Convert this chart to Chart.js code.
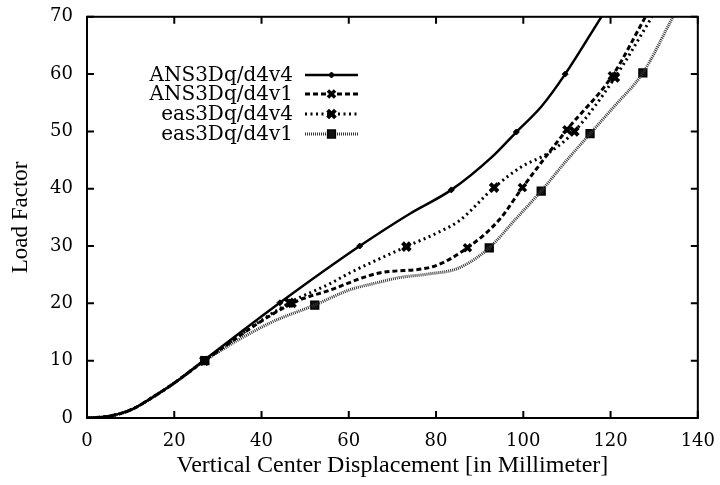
<!DOCTYPE html>
<html>
<head>
<meta charset="utf-8">
<script src="https://cdn.jsdelivr.net/npm/chart.js@4.4.1/dist/chart.umd.min.js"></script>
<style>
  html, body { margin: 0; padding: 0; background: #fff; }
  #wrap { width: 720px; height: 485px; }
</style>
</head>
<body>
<div id="wrap"><canvas id="loadChart" width="720" height="485"></canvas></div>
<script>
// axis ticks
const xTicks = [0, 20, 40, 60, 80, 100, 120, 140];
const yTicks = [0, 10, 20, 30, 40, 50, 60, 70];

const seriesNames = ['ANS3Dq/d4v4', 'ANS3Dq/d4v1', 'eas3Dq/d4v4', 'eas3Dq/d4v1'];

// ANS3Dq/d4v4 curve + markers
const ansV4X = [0, 5, 10, 15, 20, 26.7, 44.2, 62.5, 73.9, 83.5, 92.9, 98.4, 104.1, 109.6, 117.9];
const ansV4Y = [0, 0.3, 1.4, 3.6, 6.1, 10, 20.1, 30, 35.6, 39.8, 45.6, 49.9, 54.3, 60, 70];
const ansV4MarkX = [26.7, 44.2, 62.5, 83.5, 98.4, 109.6];
const ansV4MarkY = [10, 20.1, 30, 39.8, 49.9, 60];

// ANS3Dq/d4v1
const ansV1X = [0, 5, 10, 15, 20, 26.9, 47, 55.6, 67, 79.2, 87.2, 94.5, 99.8, 110, 120.4, 128];
const ansV1Y = [0, 0.3, 1.4, 3.6, 6.1, 10, 20, 22.3, 25.3, 26.4, 29.7, 34.6, 40.2, 50.3, 59.7, 70];
const ansV1MarkX = [26.9, 47, 87.2, 99.8, 110, 120.4];
const ansV1MarkY = [10, 20, 29.7, 40.2, 50.3, 59.7];

// eas3Dq/d4v4
const easV4X = [0, 5, 10, 15, 20, 26.9, 46.4, 55.6, 60.2, 73.2, 80.8, 85.3, 93.3, 99.5, 105.9, 111.7, 121, 129.5];
const easV4Y = [0, 0.3, 1.4, 3.6, 6.1, 10, 20.1, 23.4, 25.3, 29.9, 32.5, 34.4, 40.2, 43.8, 46.3, 50, 59.4, 70];
const easV4MarkX = [26.9, 46.4, 73.2, 93.3, 111.7, 121];
const easV4MarkY = [10, 20.1, 29.9, 40.2, 50, 59.4];

// eas3Dq/d4v1
const easV1X = [0, 5, 10, 15, 20, 27, 42, 52.2, 60, 67, 71.6, 78, 85.3, 92.2, 98, 104.1, 110, 115.3, 121, 127.4, 134.3];
const easV1Y = [0, 0.3, 1.4, 3.6, 6.1, 10, 16.6, 19.7, 22.3, 23.7, 24.5, 25.1, 26.2, 29.7, 34.5, 39.6, 45, 49.6, 54.5, 60.2, 70];
const easV1MarkX = [27, 52.2, 92.2, 104.1, 115.3, 127.4];
const easV1MarkY = [10, 19.7, 29.7, 39.6, 49.6, 60.2];

function pts(xs, ys) {
    return xs.map((x, i) => ({ x: x, y: ys[i] }));
}

// line + marker look for each series (same order as seriesNames)
const styles = [
    { width: 2.5, dash: [], color: '#000', marker: 'rectRot', r: 3, mw: 1, fill: '#000' },
    { width: 3, dash: [5, 3], color: '#000', marker: 'crossRot', r: 5, mw: 3.5, fill: '#000' },
    { width: 3, dash: [2, 3.5], color: '#000', marker: 'crossRot', r: 5.5, mw: 4, fill: '#000' },
    { width: 3, dash: [1, 1], color: '#333', marker: 'rect', r: 5.5, mw: 1.5, fill: '#111' }
];

const curves = [pts(ansV4X, ansV4Y), pts(ansV1X, ansV1Y), pts(easV4X, easV4Y), pts(easV1X, easV1Y)];
const marks = [pts(ansV4MarkX, ansV4MarkY), pts(ansV1MarkX, ansV1MarkY), pts(easV4MarkX, easV4MarkY), pts(easV1MarkX, easV1MarkY)];

const datasets = [];
curves.forEach((c, i) => {
    datasets.push({
        label: seriesNames[i],
        data: c,
        showLine: true,
        borderColor: styles[i].color,
        borderWidth: styles[i].width,
        borderDash: styles[i].dash,
        cubicInterpolationMode: 'monotone',
        pointRadius: 0,
        fill: false
    });
});
marks.forEach((m, i) => {
    datasets.push({
        label: seriesNames[i] + ' markers',
        data: m,
        showLine: false,
        pointStyle: styles[i].marker,
        pointRadius: styles[i].r,
        pointBorderWidth: styles[i].mw,
        pointBorderColor: '#000',
        pointBackgroundColor: styles[i].fill
    });
});

// gnuplot style frame with inward ticks on all sides
const framePlugin = {
    id: 'frame',
    afterDatasetsDraw(chart) {
        const { ctx, chartArea: a, scales } = chart;
        ctx.save();
        ctx.strokeStyle = '#000';
        ctx.lineWidth = 2;
        ctx.setLineDash([]);
        ctx.strokeRect(a.left, a.top, a.right - a.left, a.bottom - a.top);
        ctx.beginPath();
        xTicks.forEach(v => {
            const px = scales.x.getPixelForValue(v);
            ctx.moveTo(px, a.bottom); ctx.lineTo(px, a.bottom - 7);
            ctx.moveTo(px, a.top); ctx.lineTo(px, a.top + 7);
        });
        yTicks.forEach(v => {
            const py = scales.y.getPixelForValue(v);
            ctx.moveTo(a.left, py); ctx.lineTo(a.left + 7, py);
            ctx.moveTo(a.right, py); ctx.lineTo(a.right - 7, py);
        });
        ctx.stroke();
        ctx.restore();
    }
};

// legend drawn inside the plot, text right aligned, sample to its right
const keyPlugin = {
    id: 'key',
    afterDatasetsDraw(chart) {
        const ctx = chart.ctx;
        const textRight = 293, x0 = 305, x1 = 358;
        const rows = [75, 94, 114, 134];
        ctx.save();
        ctx.font = '20px "DejaVu Serif"';
        ctx.textAlign = 'right';
        ctx.textBaseline = 'middle';
        seriesNames.forEach((name, i) => {
            const st = styles[i];
            const y = rows[i];
            ctx.fillStyle = '#000';
            ctx.fillText(name, textRight, y + 1);
            ctx.strokeStyle = st.color;
            ctx.lineWidth = st.width;
            ctx.setLineDash(st.dash);
            ctx.beginPath();
            ctx.moveTo(x0, y);
            ctx.lineTo(x1, y);
            ctx.stroke();
            ctx.setLineDash([]);
            ctx.strokeStyle = '#000';
            ctx.fillStyle = st.fill;
            ctx.lineWidth = st.mw;
            Chart.helpers.drawPoint(ctx, { pointStyle: st.marker, radius: st.r, rotation: 0, borderWidth: st.mw }, (x0 + x1) / 2, y);
        });
        ctx.restore();
    }
};

const ctx = document.getElementById('loadChart').getContext('2d');
const loadChart = new Chart(ctx, {
    type: 'scatter',
    data: { datasets: datasets },
    options: {
        responsive: false,
        animation: false,
        layout: { padding: { top: 10, right: 14, left: 0, bottom: 0 } },
        plugins: {
            legend: { display: false },
            tooltip: { enabled: false }
        },
        scales: {
            x: {
                type: 'linear',
                min: 0,
                max: 140,
                afterBuildTicks: s => { s.ticks = xTicks.map(v => ({ value: v })); },
                afterFit: s => { s.height = 67; },
                grid: { display: false },
                border: { display: false },
                ticks: { color: '#000', padding: 5, maxRotation: 0, font: { family: 'DejaVu Serif', size: 18 } },
                title: {
                    display: true,
                    text: 'Vertical Center Displacement [in Millimeter]',
                    color: '#000',
                    padding: { top: 0, bottom: 5 },
                    font: { family: 'Liberation Serif', size: 24 }
                }
            },
            y: {
                type: 'linear',
                min: 0,
                max: 70,
                afterBuildTicks: s => { s.ticks = yTicks.map(v => ({ value: v })); },
                afterFit: s => { s.width = 87; },
                grid: { display: false },
                border: { display: false },
                ticks: { color: '#000', padding: 6, font: { family: 'DejaVu Serif', size: 18 } },
                title: {
                    display: true,
                    text: 'Load Factor',
                    color: '#000',
                    padding: { top: 7, bottom: 0 },
                    font: { family: 'Liberation Serif', size: 23 }
                }
            }
        }
    },
    plugins: [framePlugin, keyPlugin]
});
</script>
</body>
</html>
